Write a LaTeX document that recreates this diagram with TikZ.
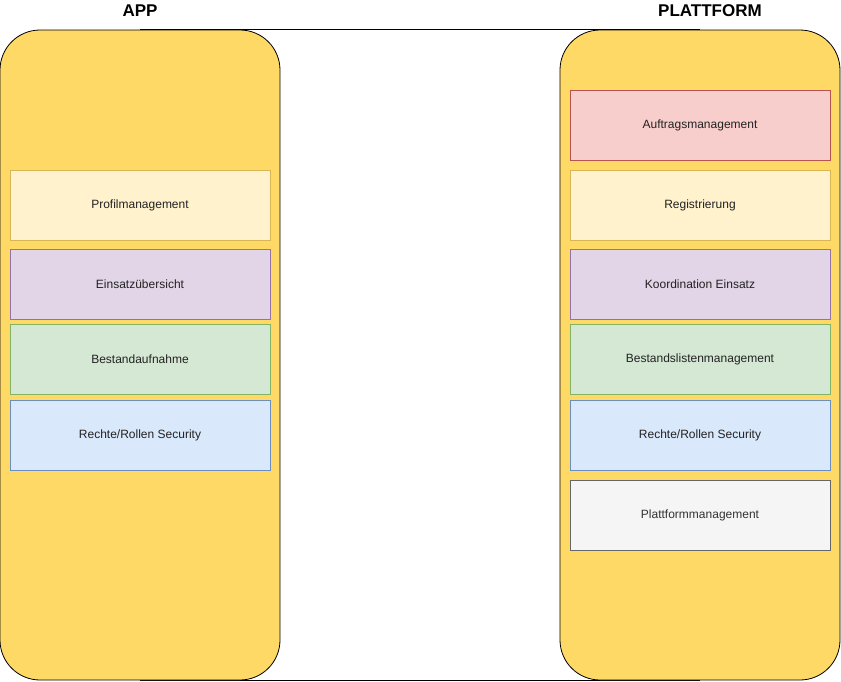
\documentclass[tikz,border=0pt]{standalone}
\usepackage{fontspec}
\setmainfont{Liberation Sans}
\usetikzlibrary{backgrounds}

\definecolor{columnfill}{RGB}{255,217,102}
\definecolor{redfill}{RGB}{248,206,204}
\definecolor{yellowfill}{RGB}{255,242,204}
\definecolor{purplefill}{RGB}{225,213,231}
\definecolor{greenfill}{RGB}{213,232,212}
\definecolor{bluefill}{RGB}{218,232,252}
\definecolor{greyfill}{RGB}{245,245,245}
\definecolor{redline}{RGB}{184,84,80}
\definecolor{yellowline}{RGB}{214,182,86}
\definecolor{purpleline}{RGB}{150,115,166}
\definecolor{greenline}{RGB}{130,179,102}
\definecolor{blueline}{RGB}{108,142,191}
\definecolor{greyline}{RGB}{102,102,102}
\definecolor{parttext}{RGB}{34,34,34}
\definecolor{greytext}{RGB}{51,51,51}

\begin{document}
\begin{tikzpicture}[x=1pt, y=-1pt, line width=0.8pt,
        column/.style={draw=black, fill=columnfill, rounded corners=40pt,
            minimum width=280pt, minimum height=650pt, inner sep=0pt},
        part/.style={minimum width=260pt, minimum height=70pt, inner sep=0pt,
            font=\fontsize{12}{14}\selectfont, text=parttext},
        title/.style={font=\fontsize{17}{20}\selectfont\bfseries}]
        \useasboundingbox (0, 0) rectangle (841, 681);

        % the two columns
        \node[column] (app) at (140, 355) {};
        \node[column] (plattform) at (700, 355) {};
        \node[title] (apptitle) at (140, 11) {APP};
        \node[title] (plattformtitle) at (710, 11) {PLATTFORM};
        \begin{scope}[on background layer]
            \path[draw] (app.north) -- (plattform.north);
            \path[draw] (app.south) -- (plattform.south);
        \end{scope}

        % app
        \node[part, draw=yellowline, fill=yellowfill] (profil) at (140, 205) {Profilmanagement};
        \node[part, draw=purpleline, fill=purplefill] (einsatz) at (140, 284) {Einsatzübersicht};
        \node[part, draw=greenline, fill=greenfill] (bestand) at (140, 359) {Bestandaufnahme};
        \node[part, draw=blueline, fill=bluefill] (apprechte) at (140, 435) {Rechte/Rollen Security};

        % plattform
        \node[part, draw=redline, fill=redfill] (auftrag) at (700, 125) {Auftragsmanagement};
        \node[part, draw=yellowline, fill=yellowfill] (registrierung) at (700, 205) {Registrierung};
        \node[part, draw=purpleline, fill=purplefill] (koordination) at (700, 284) {Koordination Einsatz};
        \node[part, draw=greenline, fill=greenfill] (bestandsliste) at (700, 359) {Bestandslistenmanagement};
        \node[part, draw=blueline, fill=bluefill] (plattformrechte) at (700, 435) {Rechte/Rollen Security};
        \node[part, draw=greyline, fill=greyfill, text=greytext] (plattformmgmt) at (700, 515) {Plattformmanagement};
    \end{tikzpicture}
\end{document}
